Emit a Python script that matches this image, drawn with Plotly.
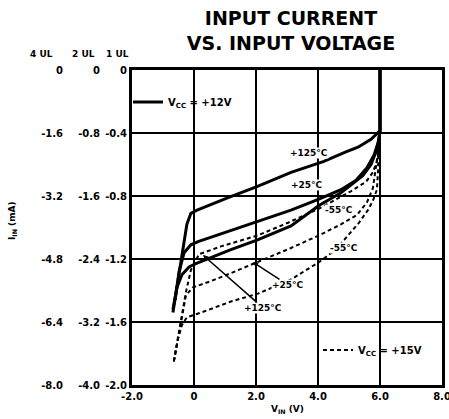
import plotly.graph_objects as go

# ---------------- data (V_IN in volts, I_IN in mA on the 1 UL scale) ----------------
x_12v_125 = [-0.68, -0.42, -0.23, -0.10, 0.10, 1.10, 2.03, 3.13, 4.19, 4.90, 5.29, 5.71, 5.97, 6.0, 6.0]
y_12v_125 = [-1.54, -1.21, -0.98, -0.91, -0.89, -0.81, -0.74, -0.65, -0.58, -0.52, -0.49, -0.44, -0.39, -0.385, 0.0]

x_12v_25 = [-0.61, -0.48, -0.32, -0.10, 0.13, 0.87, 2.03, 3.13, 4.03, 4.74, 5.23, 5.58, 5.81, 5.94, 6.0, 6.0]
y_12v_25 = [-1.46, -1.28, -1.16, -1.11, -1.09, -1.04, -0.96, -0.89, -0.82, -0.76, -0.70, -0.62, -0.54, -0.46, -0.385, 0.0]

x_12v_m55 = [-0.68, -0.55, -0.39, -0.16, 0.06, 0.55, 1.19, 2.03, 3.13, 4.03, 4.74, 5.13, 5.45, 5.71, 5.87, 5.97, 6.0, 6.0]
y_12v_m55 = [-1.52, -1.38, -1.30, -1.25, -1.23, -1.19, -1.14, -1.08, -0.99, -0.86, -0.78, -0.72, -0.67, -0.60, -0.52, -0.44, -0.385, 0.0]

x_15v_125 = [-0.65, -0.52, -0.39, -0.26, -0.10, 0.16, 0.87, 2.06, 3.03, 4.03, 5.06, 5.55, 5.77, 5.90, 5.97, 6.0, 6.0]
y_15v_125 = [-1.85, -1.71, -1.56, -1.41, -1.27, -1.17, -1.12, -1.05, -0.97, -0.88, -0.77, -0.71, -0.65, -0.58, -0.50, -0.385, 0.0]

x_15v_25 = [-0.65, -0.52, -0.39, -0.26, -0.03, 0.55, 1.19, 2.06, 3.13, 4.03, 4.74, 5.26, 5.58, 5.77, 5.87, 5.94, 6.0, 6.0]
y_15v_25 = [-1.85, -1.71, -1.56, -1.43, -1.38, -1.34, -1.29, -1.22, -1.13, -1.05, -0.98, -0.92, -0.84, -0.75, -0.63, -0.52, -0.385, 0.0]

x_15v_m55 = [-0.65, -0.52, -0.39, -0.23, 0.23, 1.19, 2.06, 3.13, 4.03, 4.58, 4.97, 5.32, 5.61, 5.77, 5.90, 5.94, 5.94, 6.0, 6.0]
y_15v_m55 = [-1.85, -1.71, -1.62, -1.57, -1.54, -1.47, -1.42, -1.33, -1.22, -1.14, -1.05, -0.97, -0.89, -0.83, -0.76, -0.63, -0.51, -0.385, 0.0]

x_ticks = [-2, 0, 2, 4, 6, 8]
x_ticktext = ["-2.0", "0", "2.0", "4.0", "6.0", "8.0"]

y_1ul_ticks = [0, -0.4, -0.8, -1.2, -1.6, -2.0]
y_1ul_text = ["0", "-0.4", "-0.8", "-1.2", "-1.6", "-2.0"]
y_2ul_ticks = [0, -0.8, -1.6, -2.4, -3.2, -4.0]
y_2ul_text = ["0", "-0.8", "-1.6", "-2.4", "-3.2", "-4.0"]
y_4ul_ticks = [0, -1.6, -3.2, -4.8, -6.4, -8.0]
y_4ul_text = ["0", "-1.6", "-3.2", "-4.8", "-6.4", "-8.0"]

FONT = "DejaVu Sans"
W, H = 449, 419
ML, MR, MT, MB = 20, 7, 70, 34
PW = W - ML - MR
PH = H - MT - MB
PLOT_LEFT = 132


def px_x(p):
    return (p - ML) / PW


def px_y(p):
    return (H - MB - p) / PH


fig = go.Figure()

dash_style = dict(color="black", width=2, dash="4px,3px")
solid_style = dict(color="black", width=3)

for xs, ys, first in [(x_15v_125, y_15v_125, True), (x_15v_25, y_15v_25, False), (x_15v_m55, y_15v_m55, False)]:
    fig.add_trace(go.Scatter(x=xs, y=ys, mode="lines", line=dash_style,
                             name="V<sub>CC</sub> = +15V", showlegend=first, legend="legend2",
                             hoverinfo="skip"))

for xs, ys, first in [(x_12v_125, y_12v_125, True), (x_12v_25, y_12v_25, False), (x_12v_m55, y_12v_m55, False)]:
    fig.add_trace(go.Scatter(x=xs, y=ys, mode="lines", line=solid_style,
                             name="V<sub>CC</sub> = +12V", showlegend=first, legend="legend",
                             hoverinfo="skip"))

# invisible anchors so the extra unit-load scales are drawn
fig.add_trace(go.Scatter(x=[6.0], y=[y_2ul_ticks[0]], yaxis="y2", mode="markers",
                         marker=dict(opacity=0), showlegend=False, hoverinfo="skip"))
fig.add_trace(go.Scatter(x=[6.0], y=[y_4ul_ticks[0]], yaxis="y3", mode="markers",
                         marker=dict(opacity=0), showlegend=False, hoverinfo="skip"))

tickfont = dict(family=FONT, size=10, color="black", weight="bold")

fig.update_layout(
    width=W, height=H,
    margin=dict(l=ML, r=MR, t=MT, b=MB, autoexpand=False),
    paper_bgcolor="white", plot_bgcolor="white",
    font=dict(family=FONT, color="black"),
    title=dict(text="<b>INPUT CURRENT<br>VS. INPUT VOLTAGE</b>", font=dict(family=FONT, size=19, color="black"),
               x=px_x(291), xref="paper", xanchor="center", y=1 - 25 / H, yanchor="top"),
    xaxis=dict(domain=[px_x(PLOT_LEFT), 1], range=[-2, 8], tickvals=x_ticks, ticktext=x_ticktext,
               showgrid=True, gridcolor="black", gridwidth=2, zeroline=False,
               showline=True, linecolor="black", linewidth=3, mirror=True, ticks="",
               tickfont=tickfont, automargin=False, ticklabeloverflow="allow"),
    yaxis=dict(range=[-2.0, 0], tickvals=y_1ul_ticks, ticktext=y_1ul_text,
               showgrid=True, gridcolor="black", gridwidth=2, zeroline=False,
               showline=True, linecolor="black", linewidth=3, mirror=True, ticks="",
               tickfont=tickfont, automargin=False),
    yaxis2=dict(overlaying="y", anchor="free", position=px_x(100), side="left",
                range=[-4.0, 0], tickvals=y_2ul_ticks, ticktext=y_2ul_text,
                showgrid=False, zeroline=False, showline=False, ticks="", tickfont=tickfont,
                automargin=False),
    yaxis3=dict(overlaying="y", anchor="free", position=px_x(63), side="left",
                range=[-8.0, 0], tickvals=y_4ul_ticks, ticktext=y_4ul_text,
                showgrid=False, zeroline=False, showline=False, ticks="", tickfont=tickfont,
                automargin=False),
    legend=dict(x=px_x(128), y=px_y(102), xanchor="left", yanchor="middle",
                bgcolor="rgba(0,0,0,0)", font=dict(family=FONT, size=10, color="black", weight="bold"),
                itemwidth=30),
    legend2=dict(x=px_x(318), y=px_y(350), xanchor="left", yanchor="middle",
                 bgcolor="rgba(0,0,0,0)", font=dict(family=FONT, size=10, color="black", weight="bold"),
                 itemwidth=30),
)

lab_font = dict(family=FONT, size=9, color="black", weight="bold")

annotations = [
    dict(text="4 UL", x=px_x(41), y=px_y(54)),
    dict(text="2 UL", x=px_x(83), y=px_y(54)),
    dict(text="1 UL", x=px_x(117), y=px_y(54)),
    dict(text="V<sub>IN</sub> (V)", x=px_x(287), y=px_y(409)),
    dict(text="I<sub>IN</sub> (mA)", x=px_x(12), y=px_y(221), textangle=-90),
]
for a in annotations:
    fig.add_annotation(xref="paper", yref="paper", showarrow=False, font=lab_font,
                       xanchor="center", yanchor="middle", **a)

curve_labels = [
    ("+125°C", 3.71, -0.527),
    ("+25°C", 3.65, -0.73),
    ("-55°C", 4.68, -0.889),
    ("-55°C", 4.84, -1.13),
]
for t, x, y in curve_labels:
    fig.add_annotation(text=t, x=x, y=y, xref="x", yref="y", showarrow=False, font=lab_font,
                       bgcolor="white", borderpad=0)

leaders = [
    ("+125°C", 0.29, -1.175, 2.23, -1.51),
    ("+25°C", 1.90, -1.22, 3.03, -1.365),
]
for t, x, y, ax, ay in leaders:
    fig.add_annotation(text=t, x=x, y=y, ax=ax, ay=ay, xref="x", yref="y", axref="x", ayref="y",
                       showarrow=True, arrowhead=2, arrowsize=0.7, arrowwidth=1.5, arrowcolor="black",
                       font=lab_font, bgcolor="white", borderpad=0)

fig.write_html("out.html", config={"displayModeBar": False},
               post_script="document.body.style.margin='0px';")
